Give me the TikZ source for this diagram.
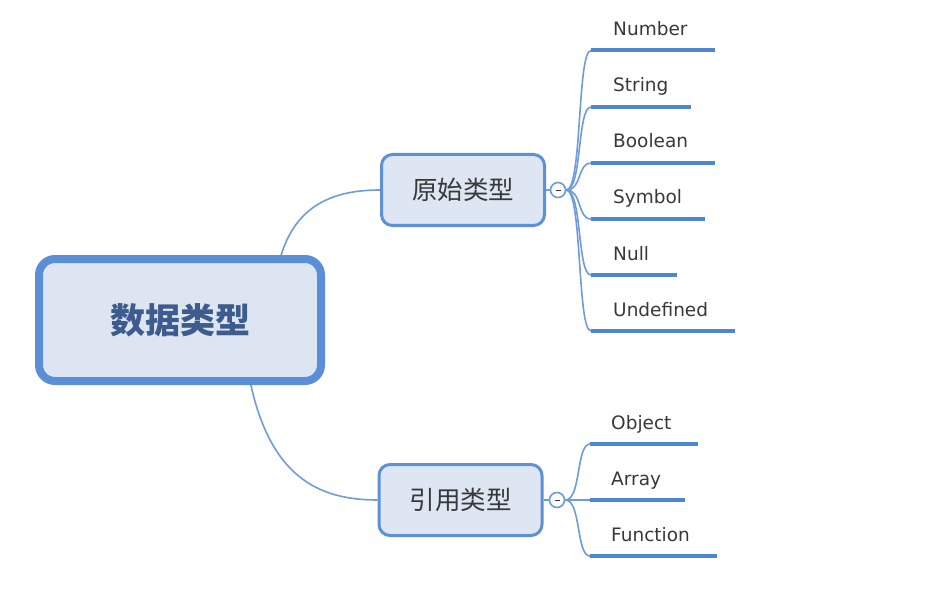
\documentclass[tikz,border=0pt]{standalone}
\usepackage{fontspec}
\usetikzlibrary{calc}
\setmainfont{DejaVu Sans}
\newfontfamily\cjk{Noto Sans CJK SC}
\definecolor{mainborder}{HTML}{5A8FD8}
\definecolor{mainfill}{HTML}{DCE5F1}
\definecolor{maintext}{HTML}{3D5B8C}
\definecolor{subborder}{HTML}{5E90D6}
\definecolor{subfill}{HTML}{DDE6F2}
\definecolor{conncol}{HTML}{6E9BDD}
\definecolor{leafcol}{HTML}{4F86D0}
\definecolor{txt}{HTML}{383838}
\begin{document}
\begin{tikzpicture}[x=1pt,y=-1pt,
  mainbox/.style={draw=mainborder, line width=8pt, fill=mainfill, rounded corners=16pt,
    minimum width=282pt, minimum height=122pt, inner sep=0pt,
    font=\cjk\bfseries\fontsize{35}{35}\selectfont, text=maintext},
  subbox/.style={draw=subborder, line width=3pt, fill=subfill, rounded corners=11pt,
    minimum width=163pt, minimum height=71pt, inner sep=0pt,
    font=\cjk\fontsize{25.5}{25.5}\selectfont, text=txt},
  conn/.style={draw=conncol, line width=1.6pt},
  leafline/.style={draw=leafcol, line width=4pt},
  leaftext/.style={anchor=base west, inner sep=0pt, text=txt, font=\fontsize{18.5}{18.5}\selectfont},
  hubcircle/.style={circle, draw=conncol, line width=1.6pt, fill=white, minimum size=15pt, inner sep=0pt},
]
\path[use as bounding box] (0,0) rectangle (926,596);

% nodes
\node[subbox] (yuan) at (463,190) {原始类型};
\node[subbox] (yin) at (460.5,500) {引用类型};

% connectors main -> sub
\coordinate (mtop) at (280,259);
\coordinate (mbot) at (250,381);
\draw[conn] (mtop) .. controls +(15,-55) and +(-45,0) .. (yuan.west);
\draw[conn] (mbot) .. controls +(20,95) and +(-60,0) .. (yin.west);

\node[mainbox] (main) at (180,320) {数据类型};

% hubs
\node[hubcircle] (hubA) at (558,190) {};
\node[hubcircle] (hubB) at (557,500) {};
\draw[conn] (yuan.east) -- (hubA.west);
\draw[conn] (yin.east) -- (hubB.west);
\draw[draw=txt, line width=0.8pt] ($(hubA.center)+(-2.5,0)$) -- ($(hubA.center)+(2.5,0)$);
\draw[draw=txt, line width=0.8pt] ($(hubB.center)+(-2.5,0)$) -- ($(hubB.center)+(2.5,0)$);

% top leaves
\foreach \nm/\y/\xe/\lab in {n1/50.5/715/Number, n2/107/691/String, n3/163/715/Boolean,
  n4/219/705/Symbol, n5/275/677/Null, n6/331/735/Undefined}{
  \coordinate (\nm s) at (591,\y);
  \coordinate (\nm e) at (\xe,\y);
  \draw[conn] (hubA.east) .. controls +(16,0) and +(-14,0) .. (\nm s);
  \draw[leafline] (\nm s) -- (\nm e);
  \node[leaftext] (\nm t) at (613,\y-15) {\lab};
}
% bottom leaves
\foreach \nm/\y/\xe/\lab in {m1/444/698/Object, m2/500/685/Array, m3/556/717/Function}{
  \coordinate (\nm s) at (590,\y);
  \coordinate (\nm e) at (\xe,\y);
  \draw[conn] (hubB.east) .. controls +(16,0) and +(-14,0) .. (\nm s);
  \draw[leafline] (\nm s) -- (\nm e);
  \node[leaftext] (\nm t) at (611,\y-15) {\lab};
}
\end{tikzpicture}
\end{document}
